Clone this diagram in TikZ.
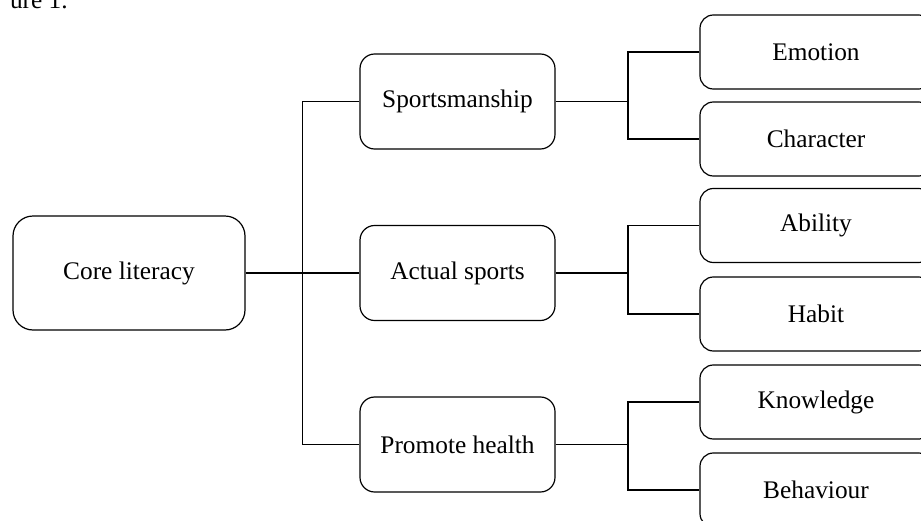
\documentclass[tikz,border=0pt]{standalone}
\usepackage{fontspec}
\setmainfont{Liberation Serif}
\begin{document}
\begin{tikzpicture}[x=0.75pt,y=-0.75pt,
  every node/.style={font=\fontsize{19}{23}\selectfont},
  box/.style={draw, line width=0.9pt, rounded corners=#1, inner sep=0pt, align=center},
  corebox/.style={box=15pt, minimum width=174pt, minimum height=85.5pt},
  midbox/.style={box=11pt, minimum width=146.25pt, minimum height=71.25pt},
  leafbox/.style={box=10pt, minimum width=174pt, minimum height=55.5pt},
  link/.style={draw, line width=0.9pt}]
\useasboundingbox (0,0) rectangle (921,521);
\clip (0,0) rectangle (921,521);
\fill[white] (0,0) rectangle (921,521);
\node[anchor=base east, inner sep=0pt] (fig) at (68,8) {ure 1.};
\node[corebox] (core) at (129,273) {Core literacy};
\node[midbox] (sp) at (457.5,101.5) {Sportsmanship};
\node[midbox] (as) at (457.5,273) {Actual sports};
\node[midbox] (ph) at (457.5,444.5) {Promote health};
\node[leafbox] (em) at (816,52) {Emotion};
\node[leafbox] (ch) at (816,139) {Character};
\node[leafbox] (ab) at (816,225.5) {Ability};
\node[leafbox] (ha) at (816,314) {Habit};
\node[leafbox] (kn) at (816,402) {Knowledge};
\node[leafbox] (be) at (816,490) {Behaviour};
\coordinate (bs) at (628,101.5);
\coordinate (ba) at (628,273);
\coordinate (bp) at (628,444.5);
\path[link] (core.east) -- (as.west);
\path[link] (sp.west) -- ++(-57,0) |- (ph.west);
\path[link] (sp.east) -- (bs);
\path[link] (em.west) -| (bs) |- (ch.west);
\path[link] (as.east) -- (ba);
\path[link] (ab.west) -| (ba) |- (ha.west);
\path[link] (ph.east) -- (bp);
\path[link] (kn.west) -| (bp) |- (be.west);
\end{tikzpicture}
\end{document}
